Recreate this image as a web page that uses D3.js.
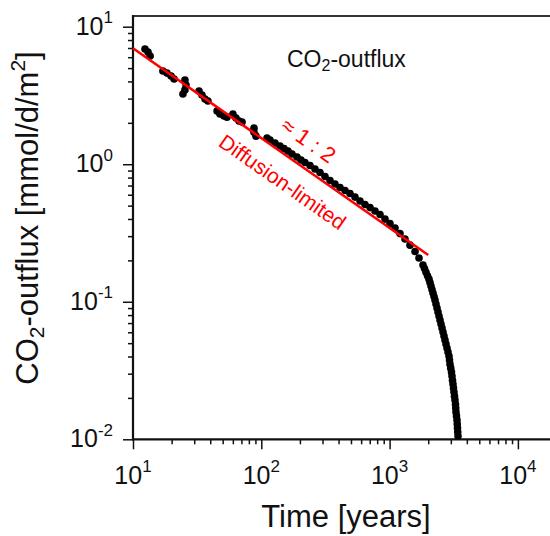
<!DOCTYPE html>
<html><head><meta charset="utf-8">
<script src="https://cdn.jsdelivr.net/npm/d3@7"></script>
<style>
html,body{margin:0;padding:0;background:#fff;}
svg{display:block;font-family:"Liberation Sans",Arial,Helvetica,sans-serif;}
</style>
</head><body>
<svg id="c" width="550" height="536"></svg>
<script>
// ---- data ----
const years = [12.4, 13.1, 13.6, 17.1, 18.4, 19.8, 20.9, 25.4, 25.9, 25.4, 24.5, 32.7, 34.5, 36.4, 38.4,
  45.2, 47.6, 51.2, 54.0, 60.1, 63.5, 67.0, 70.8, 87.7, 87.7, 90.9,
  110.8, 116.9, 127.9, 139.9, 150.3, 161.5, 173.5, 189.8, 203.9, 219.0,
  239.7, 262.2, 286.8, 313.7, 343.2, 375.4, 410.6, 449.2, 491.3, 537.5,
  588, 643, 704, 770, 842, 921, 1007, 1102, 1205, 1318,
  1442, 1578, 1695, 1821,
  1871, 1922, 1974, 2028, 2065, 2102, 2140, 2179, 2219, 2259,
  2300, 2342, 2384, 2427, 2471, 2516, 2562, 2608, 2655, 2703,
  2752, 2802, 2853, 2904, 2930, 2957, 2997, 3037, 3064, 3092,
  3120, 3148, 3176, 3205, 3234, 3263, 3277, 3292, 3322, 3352,
  3367, 3382, 3397, 3413];
const flux = [6.88, 6.55, 6.12, 4.76, 4.60, 4.38, 4.17, 4.09, 3.77, 3.47, 3.24, 3.41, 3.19, 2.98, 2.88,
  2.44, 2.32, 2.24, 2.20, 2.32, 2.17, 2.06, 2.03, 1.83, 1.71, 1.60,
  1.551, 1.500, 1.426, 1.356, 1.301, 1.247, 1.186, 1.128, 1.073, 1.029,
  0.978, 0.923, 0.870, 0.814, 0.761, 0.718, 0.677, 0.644, 0.612, 0.577,
  0.540, 0.509, 0.484, 0.457, 0.431, 0.399, 0.370, 0.344, 0.313, 0.286,
  0.258, 0.232, 0.208, 0.185,
  0.1742, 0.164, 0.1547, 0.146, 0.1378, 0.130, 0.1226, 0.1157, 0.1091, 0.1029,
  0.0962, 0.0900, 0.0842, 0.0787, 0.0736, 0.0688, 0.0644, 0.0602, 0.0563, 0.0527,
  0.0493, 0.0461, 0.0431, 0.0403, 0.0377, 0.0352, 0.0329, 0.0308, 0.0288, 0.0269,
  0.0252, 0.0236, 0.0221, 0.0206, 0.0193, 0.0180, 0.0169, 0.0158, 0.0148, 0.0138,
  0.0129, 0.0121, 0.0113, 0.01055];
const fitYears = [10, 2000];
const fitFlux = [6.97, 0.219];
const annoYear = 187;

const xTickValues = [10, 100, 1000, 10000];
const xTickExponents = ["1", "2", "3", "4"];
const yTickValues = [0.01, 0.1, 1, 10];
const yTickExponents = ["-2", "-1", "0", "1"];
const xTitle = "Time [years]";
const yTitleParts = [["CO", 0], ["2", 1], ["-outflux [mmol/d/m", 0], ["2", -1], ["]", 0]];
const panelLabelParts = [["CO", 0], ["2", 1], ["-outflux", 0]];
const slopeLabel = "\u2248 1 : 2";
const regimeLabel = "Diffusion-limited";

// ---- layout ----
const svg = d3.select("#c");
const L = 133, T = 16, B = 439.3, R = 562;
const x = d3.scaleLog().domain([10, 1e5]).range([L, L + 4 * 128.3]);
const y = d3.scaleLog().domain([0.01, 10]).range([B, 26.7]);
const ink = "#111";

svg.append("defs").append("clipPath").attr("id", "clip")
  .append("rect").attr("x", L).attr("y", T).attr("width", R - L).attr("height", B - T);

const minor = (lo, hi) => { const o = []; for (let e = lo; e < hi; e++) for (let m = 2; m <= 9; m++) o.push(m * Math.pow(10, e)); return o; };

function styleAxis(g) {
  g.select(".domain").remove();
  g.selectAll(".tick line").attr("stroke", ink).attr("stroke-width", 1.5);
  g.selectAll(".tick text").remove();
}
svg.append("g").attr("transform", `translate(0,${B})`)
  .call(d3.axisBottom(x).tickValues(minor(1, 5)).tickSize(5).tickFormat("")).call(styleAxis);
svg.append("g").attr("transform", `translate(0,${B})`)
  .call(d3.axisBottom(x).tickValues(xTickValues).tickSize(10).tickFormat("")).call(styleAxis);
svg.append("g").attr("transform", `translate(${L},0)`)
  .call(d3.axisLeft(y).tickValues(minor(-2, 1)).tickSize(5).tickFormat("")).call(styleAxis);
svg.append("g").attr("transform", `translate(${L},0)`)
  .call(d3.axisLeft(y).tickValues(yTickValues).tickSize(10).tickFormat("")).call(styleAxis);

// frame lines
svg.append("line").attr("x1", L).attr("x2", R).attr("y1", T).attr("y2", T).attr("stroke", "#333").attr("stroke-width", 2.2);
svg.append("line").attr("x1", L).attr("x2", L).attr("y1", T - 1).attr("y2", B + 1).attr("stroke", ink).attr("stroke-width", 2.2);
svg.append("line").attr("x1", L - 1).attr("x2", R).attr("y1", B).attr("y2", B).attr("stroke", ink).attr("stroke-width", 2.2);

// tick labels
xTickValues.forEach((v, i) => {
  const t = svg.append("text").attr("x", x(v)).attr("y", 483.5).attr("text-anchor", "middle")
    .attr("font-size", 25).attr("fill", ink);
  t.append("tspan").text("10");
  t.append("tspan").attr("font-size", 17).attr("dy", -11.5).text(xTickExponents[i]);
});
yTickValues.forEach((v, i) => {
  const t = svg.append("text").attr("x", 113).attr("y", y(v) + 8).attr("text-anchor", "end")
    .attr("font-size", 25).attr("fill", ink);
  t.append("tspan").text("10");
  t.append("tspan").attr("font-size", 17).attr("dy", -11.5).text(yTickExponents[i]);
});

// data points
svg.append("g").attr("clip-path", "url(#clip)")
  .selectAll("circle").data(d3.zip(years, flux)).join("circle")
  .attr("cx", d => x(d[0])).attr("cy", d => y(d[1])).attr("r", 3.8).attr("fill", "#000");

// fit line
svg.append("path").datum(d3.zip(fitYears, fitFlux))
  .attr("d", d3.line().x(d => x(d[0])).y(d => y(d[1])))
  .attr("stroke", "#ff0000").attr("stroke-width", 2.5).attr("fill", "none");

// annotations along the fit line
const x1 = x(fitYears[0]), y1 = y(fitFlux[0]), x2 = x(fitYears[1]), y2 = y(fitFlux[1]);
const ang = Math.atan2(y2 - y1, x2 - x1), deg = ang * 180 / Math.PI;
const fx = x(annoYear), fy = y1 + (fx - x1) * (y2 - y1) / (x2 - x1);
const nx = -Math.sin(ang), ny = Math.cos(ang), ax = Math.cos(ang), ay = Math.sin(ang);
function rotText(cx, cy, str, size) {
  svg.append("text").attr("transform", `translate(${cx},${cy}) rotate(${deg})`)
    .attr("text-anchor", "middle").attr("font-size", size).attr("fill", "#ff0000").text(str);
}
rotText(fx + 31 * nx, fy + 31 * ny, regimeLabel, 21);
rotText(fx - 17.6 * nx - 2.6 * ax, fy - 17.6 * ny - 2.6 * ay, slopeLabel, 22);

// panel label
const pl = svg.append("text").attr("x", 287).attr("y", 66.7).attr("font-size", 23).attr("fill", ink);
let c0 = 0;
panelLabelParts.forEach(([s, k]) => {
  const target = k * 4.5;
  const ts = pl.append("tspan").attr("dy", target - c0).text(s);
  if (k !== 0) ts.attr("font-size", 16);
  c0 = target;
});

// axis titles
svg.append("text").attr("x", 346).attr("y", 527).attr("text-anchor", "middle")
  .attr("font-size", 31).attr("fill", ink).text(xTitle);
const yt = svg.append("text").attr("transform", "translate(38,218) rotate(-90)")
  .attr("text-anchor", "middle").attr("font-size", 31).attr("fill", ink);
let cur = 0;
yTitleParts.forEach(([s, k]) => {
  const target = k === 1 ? 6 : (k === -1 ? -13 : 0);
  const ts = yt.append("tspan").attr("dy", target - cur).text(s);
  if (k !== 0) ts.attr("font-size", 21);
  cur = target;
});
</script>
</body></html>
